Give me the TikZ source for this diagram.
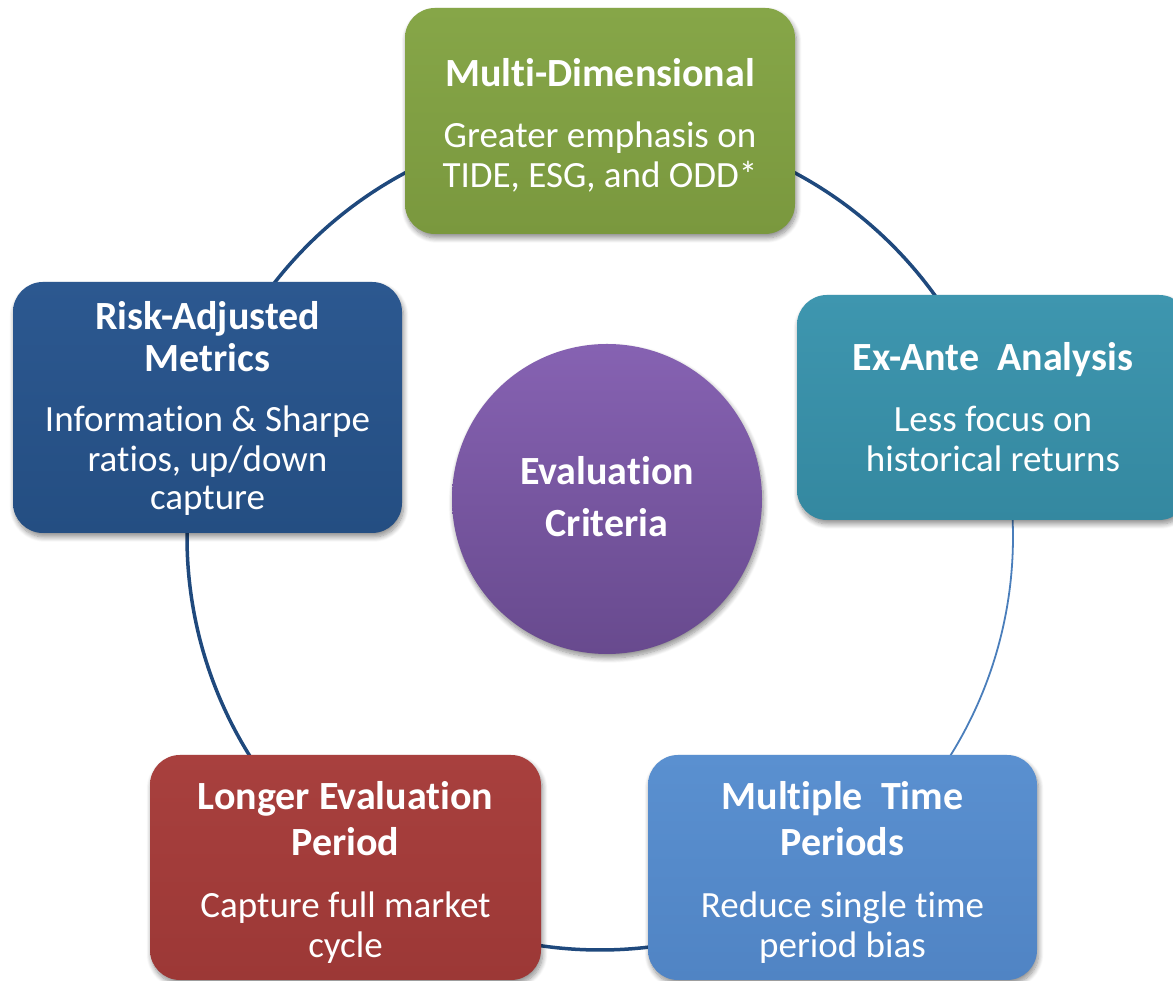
\documentclass[tikz,border=0pt]{standalone}
\usepackage{fontspec}
\newfontfamily\cf[Ligatures=NoCommon]{Carlito}
\usetikzlibrary{shadows.blur}

\definecolor{linkdark}{RGB}{31,73,125}
\definecolor{linklight}{RGB}{74,126,187}
\definecolor{greenT}{RGB}{134,166,72}
\definecolor{greenB}{RGB}{122,152,62}
\definecolor{navyT}{RGB}{44,88,144}
\definecolor{navyB}{RGB}{36,78,130}
\definecolor{tealT}{RGB}{62,150,175}
\definecolor{tealB}{RGB}{52,136,160}
\definecolor{redT}{RGB}{168,64,62}
\definecolor{redB}{RGB}{156,56,54}
\definecolor{blueT}{RGB}{90,144,208}
\definecolor{blueB}{RGB}{80,132,196}
\definecolor{purpT}{RGB}{134,98,178}
\definecolor{purpB}{RGB}{104,74,142}

\begin{document}
\begin{tikzpicture}[x=1pt,y=1pt,
  card/.style={rounded corners=30pt, inner sep=0pt,
    blur shadow={shadow xshift=1.5pt, shadow yshift=-4pt,
      shadow blur steps=10, shadow blur radius=5pt, shadow opacity=45}},
  hubdisc/.style={circle, inner sep=0pt, minimum size=310pt,
    top color=purpT, bottom color=purpB,
    blur shadow={shadow xshift=1.5pt, shadow yshift=-4pt,
      shadow blur steps=10, shadow blur radius=5pt, shadow opacity=45}},
  head/.style={anchor=base, text=white, inner sep=0pt,
    font=\cf\bfseries\fontsize{40}{46}\selectfont},
  body/.style={anchor=base, text=white, inner sep=0pt,
    font=\cf\fontsize{37}{40}\selectfont},
  link/.style={draw=linkdark, line width=3.5pt},
  thinlink/.style={draw=linklight, line width=1.8pt}]

\useasboundingbox (0,0) rectangle (1173,981);
\clip (0,0) rectangle (1173,981);

% ring of connectors behind the cards
\coordinate (ring) at (600,444);
\draw[link] ([shift={(116:413pt)}]ring) arc[start angle=116, end angle=144, radius=413pt];
\draw[link] ([shift={(64:413pt)}]ring) arc[start angle=64, end angle=34, radius=413pt];
\draw[thinlink] ([shift={(3.5:413pt)}]ring) arc[start angle=3.5, end angle=-33.5, radius=413pt];
\draw[link] ([shift={(178:413pt)}]ring) arc[start angle=178, end angle=213, radius=413pt];
\draw[link] ([shift={(260:413pt)}]ring) arc[start angle=260, end angle=279, radius=413pt];

% cards
\node[card, minimum width=390pt, minimum height=226pt, top color=greenT, bottom color=greenB] (dim) at (600,860) {};
\node[card, minimum width=389pt, minimum height=251pt, top color=navyT, bottom color=navyB] (risk) at (207.5,573.5) {};
\node[card, minimum width=392pt, minimum height=225pt, top color=tealT, bottom color=tealB] (ante) at (993,573.5) {};
\node[card, minimum width=391pt, minimum height=225pt, top color=redT, bottom color=redB] (longer) at (345.5,113.5) {};
\node[card, minimum width=389pt, minimum height=225pt, top color=blueT, bottom color=blueB] (multi) at (842.5,113.5) {};
\node[hubdisc] (hub) at (607,482) {};

% card texts
\node[head] (dimT) at (600,894) {Multi-Dimensional};
\node[body] (dimA) at (600,833) {Greater emphasis on};
\node[body] (dimB) at (600,793) {TIDE, ESG, and ODD*};

\node[head] (riskT) at (207.5,651) {Risk-Adjusted};
\node[head] (riskU) at (207.5,609) {Metrics};
\node[body] (riskA) at (207.5,549) {Information \& Sharpe};
\node[body] (riskB) at (207.5,509) {ratios, up/down};
\node[body] (riskC) at (207.5,471) {capture};

\node[head] (anteT) at (993,610) {Ex-Ante\ \ Analysis};
\node[body] (anteA) at (993,549) {Less focus on};
\node[body] (anteB) at (993,509) {historical returns};

\node[head] (hubT) at (607,496) {Evaluation};
\node[head] (hubU) at (607,444) {Criteria};

\node[head] (longT) at (345.5,171) {Longer Evaluation};
\node[head] (longU) at (345.5,125) {Period};
\node[body] (longA) at (345.5,63) {Capture full market};
\node[body] (longB) at (345.5,23) {cycle};

\node[head] (multT) at (842.5,171) {Multiple\ \ Time};
\node[head] (multU) at (842.5,125) {Periods};
\node[body] (multA) at (842.5,63) {Reduce single time};
\node[body] (multB) at (842.5,23) {period bias};
\end{tikzpicture}
\end{document}
